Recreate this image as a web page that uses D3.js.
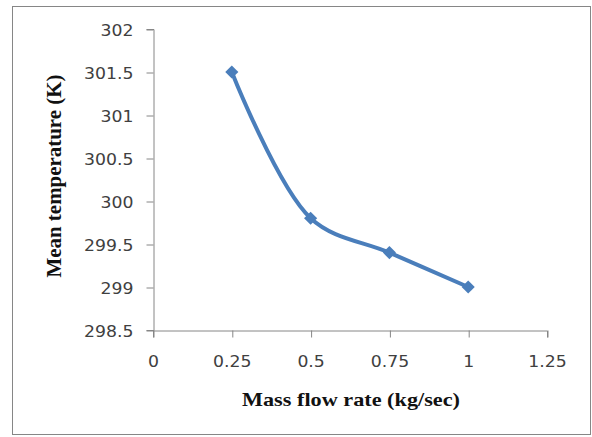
<!DOCTYPE html>
<html>
<head>
<meta charset="utf-8">
<script src="https://cdn.jsdelivr.net/npm/d3@7"></script>
<style>
  body { margin: 0; background: white; }
</style>
</head>
<body>
<div id="chart"></div>
<script>
var width = 592;
var height = 437;

var flowRates = [0.25, 0.5, 0.75, 1];
var meanTemps = [301.5, 299.8, 299.4, 299];
var xTicks = [0, 0.25, 0.5, 0.75, 1, 1.25];
var yTicks = [298.5, 299, 299.5, 300, 300.5, 301, 301.5, 302];

var lineColor = "#4a7ebb";
var axisColor = "#868686";
var tickFont = "DejaVu Sans, Verdana, sans-serif";
var titleFont = "Liberation Serif, Times New Roman, serif";

var svg = d3.select("#chart")
    .append("svg")
    .attr("width", width)
    .attr("height", height);

// the reference looks stretched sideways, so widen text a bit
function stretch(sel, factor) {
    sel.each(function() {
        var w = this.getComputedTextLength();
        d3.select(this)
            .attr("textLength", w * factor)
            .attr("lengthAdjust", "spacingAndGlyphs");
    });
}

// outer frame
svg.append("rect")
    .attr("x", 12.5)
    .attr("y", 6.5)
    .attr("width", 578)
    .attr("height", 428)
    .attr("fill", "white")
    .attr("stroke", "#868686")
    .attr("stroke-width", 1);

var x = d3.scaleLinear().domain([0, 1.25]).range([153, 547]);
var y = d3.scaleLinear().domain([298.5, 302]).range([330, 29]);

// y axis
var yAxis = svg.append("g")
    .attr("transform", "translate(153.5,0)")
    .call(d3.axisLeft(y).tickValues(yTicks).tickSize(7).tickPadding(13).tickFormat(d => d));
yAxis.select(".domain").attr("stroke", axisColor);
yAxis.selectAll(".tick line").attr("stroke", axisColor).attr("transform", "translate(0,0.5)");
yAxis.selectAll(".tick text")
    .attr("fill", "#404040")
    .attr("dy", "0.4em")
    .style("font-family", tickFont)
    .style("font-size", "15px")
    .call(stretch, 1.15);

// x axis
var xAxis = svg.append("g")
    .attr("transform", "translate(0,330.5)")
    .call(d3.axisBottom(x).tickValues(xTicks).tickSize(7).tickFormat(d => d));
xAxis.select(".domain").attr("stroke", axisColor);
xAxis.selectAll(".tick line").attr("stroke", axisColor).attr("transform", "translate(0.5,0)");
xAxis.selectAll(".tick text")
    .attr("fill", "#404040")
    .attr("y", 36.5)
    .attr("dy", 0)
    .style("font-family", tickFont)
    .style("font-size", "15px")
    .call(stretch, 1.15);

// series
var points = flowRates.map((f, i) => ({x: f, y: meanTemps[i]}));

var curveGenerator = d3.line()
    .x(d => x(d.x))
    .y(d => y(d.y))
    .curve(d3.curveCatmullRom.alpha(0.5));

svg.append("path")
    .data([points])
    .attr("d", curveGenerator)
    .attr("fill", "none")
    .attr("stroke", lineColor)
    .attr("stroke-width", 4);

svg.selectAll(".marker")
    .data(points)
    .enter()
    .append("path")
    .attr("class", "marker")
    .attr("d", d3.symbol().type(d3.symbolDiamond2).size(110))
    .attr("transform", d => "translate(" + x(d.x) + "," + y(d.y) + ")")
    .attr("fill", lineColor);

// axis titles
svg.append("text")
    .attr("x", 351)
    .attr("y", 406)
    .style("text-anchor", "middle")
    .style("font-family", titleFont)
    .style("font-weight", "bold")
    .style("font-size", "19px")
    .attr("fill", "#111")
    .text("Mass flow rate (kg/sec)")
    .attr("textLength", 218)
    .attr("lengthAdjust", "spacingAndGlyphs");

svg.append("text")
    .attr("transform", "translate(61,176) rotate(-90)")
    .style("text-anchor", "middle")
    .style("font-family", titleFont)
    .style("font-weight", "bold")
    .style("font-size", "20px")
    .attr("fill", "#111")
    .text("Mean temperature (K)")
    .attr("textLength", 203)
    .attr("lengthAdjust", "spacingAndGlyphs");
</script>
</body>
</html>
